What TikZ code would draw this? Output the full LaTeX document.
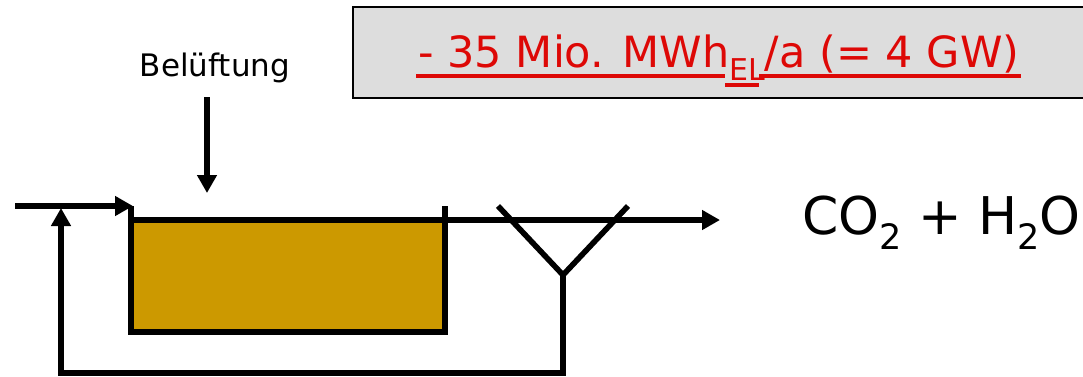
\documentclass[tikz,border=0pt]{standalone}
\usepackage{fontspec}
\setmainfont{DejaVu Sans}
\usetikzlibrary{arrows.meta}
\definecolor{tankfill}{RGB}{204,153,0}
\definecolor{boxgray}{RGB}{221,221,221}
\definecolor{redtext}{RGB}{221,8,6}
\tikzset{
  px/.style={x=1pt,y=-1pt},
  pipe/.style={line width=5.6pt,black},
  flow/.style={pipe,-{Triangle[length=18pt,width=19pt]}},
  lbl/.style={inner sep=0pt,anchor=base},
  uline/.style={line width=4pt,redtext}
}
\newcommand{\lowsub}[1]{\raisebox{-0.3em}{\fontsize{30}{32}\selectfont #1}}
\begin{document}
\begin{tikzpicture}[px]
\useasboundingbox (0,0) rectangle (1083,376);
\fill[white] (0,0) rectangle (1083,376);
\node[draw=black,fill=boxgray,line width=1.6pt,minimum width=740pt,minimum height=91pt,inner sep=0pt,anchor=north west] (box) at (352,6) {};
\node[lbl,text=redtext,font=\fontsize{43}{47}\selectfont] (title) at (719,67.5) {- 35 Mio. MWh\lowsub{EL}/a (= 4 GW)};
\coordinate (u1) at (416,75.5);
\coordinate (u2) at (725,75.5);
\coordinate (u3) at (759,75.5);
\coordinate (u4) at (1021,75.5);
\coordinate (u5) at (725,85);
\coordinate (u6) at (759,85);
\draw[uline] (u1) -- (u2) (u3) -- (u4) (u5) -- (u6);
\node[lbl,font=\fontsize{31}{34}\selectfont] (bel) at (215,76) {Belüftung};
\coordinate (a1) at (207,97);
\coordinate (a2) at (207,193);
\draw[flow] (a1) -- (a2);
\fill[tankfill] (132,220) rectangle (445,331);
\coordinate (tl) at (131,206);
\coordinate (bl) at (131,332);
\coordinate (br) at (445,332);
\coordinate (tr) at (445,206);
\draw[pipe] (tl) -- (bl) -- (br) -- (tr);
\coordinate (in) at (15,206);
\coordinate (inend) at (133,206);
\draw[flow] (in) -- (inend);
\coordinate (t0) at (131,220);
\coordinate (t1) at (720,220);
\draw[flow] (t0) -- (t1);
\coordinate (vl) at (498,206);
\coordinate (vm) at (563,275);
\coordinate (vr) at (628,206);
\coordinate (rb) at (563,373);
\coordinate (rl) at (61,373);
\coordinate (rt) at (61,208);
\draw[pipe] (vl) -- (vm) -- (vr);
\draw[flow] (vm) -- (rb) -- (rl) -- (rt);
\node[lbl,font=\fontsize{52}{56}\selectfont] (prod) at (941.5,234) {CO\lowsub{\fontsize{35}{37}\selectfont 2} + H\lowsub{\fontsize{35}{37}\selectfont 2}O};
\end{tikzpicture}
\end{document}
